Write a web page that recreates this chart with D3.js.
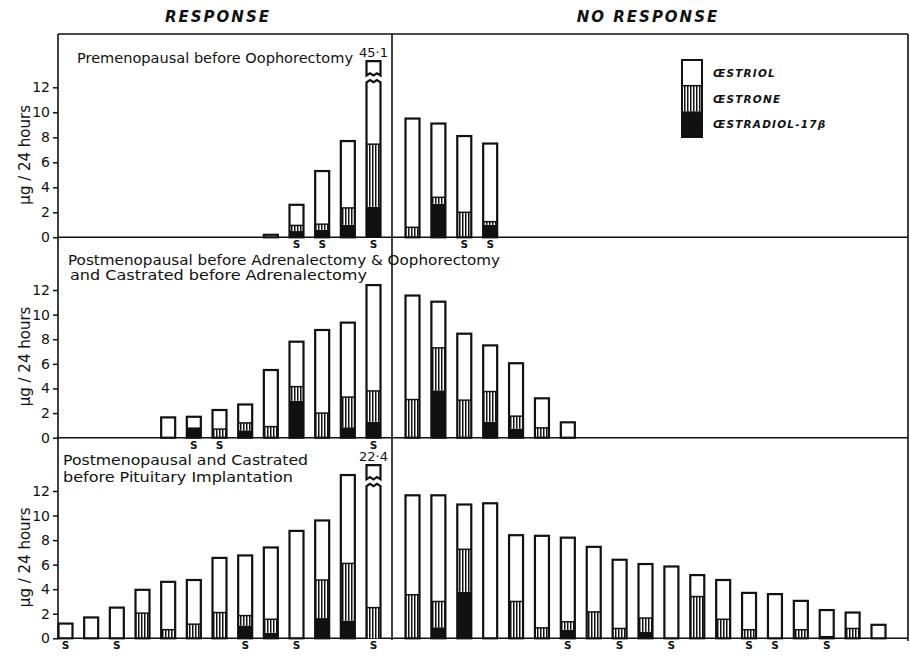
<!DOCTYPE html>
<html>
<head>
<meta charset="utf-8">
<script src="https://cdn.jsdelivr.net/npm/d3@7"></script>
<style>
  body { margin: 0; background: #fff; }
  svg { display: block; }
  text { font-family: "DejaVu Sans", sans-serif; fill: #111; }
</style>
</head>
<body>
<svg id="chart" width="910" height="656"></svg>
<script>
// R = response (left half), N = no response (right half); slot = bar position inside its half
// e2 = oestradiol-17b (black), e1 = oestrone (hatched), e3 = oestriol (white), all ug / 24 hours
const premenoSide = ["R","R","R","R","R","N","N","N","N"];
const premenoSlot = [8,9,10,11,12,0,1,2,3];
const premenoE2 = [0,0.5,0.6,1.0,2.45,0,2.7,0,1.0];
const premenoE1 = [0,0.45,0.45,1.35,5.0,0.8,0.5,2.0,0.25];
const premenoE3 = [0.2,1.65,4.25,5.35,37.65,8.7,5.9,6.1,6.25];
const premenoS = [0,1,1,0,1,0,0,1,1];

const adrenalSide = ["R","R","R","R","R","R","R","R","R","N","N","N","N","N","N","N"];
const adrenalSlot = [4,5,6,7,8,9,10,11,12,0,1,2,3,4,5,6];
const adrenalE2 = [0,0.85,0,0.6,0,3.0,0,0.85,1.3, 0,3.85,0,1.3,0.75,0,0];
const adrenalE1 = [0,0,0.7,0.6,0.9,1.15,2.0,2.45,2.5, 3.1,3.45,3.05,2.45,1.0,0.8,0];
const adrenalE3 = [1.65,0.85,1.55,1.5,4.6,3.65,6.75,6.05,8.6, 8.45,3.75,5.4,3.75,4.3,2.4,1.25];
const adrenalS = [0,1,1,0,0,0,0,0,1, 0,0,0,0,0,0,0];

const pituitSide = d3.range(13).map(() => "R").concat(d3.range(19).map(() => "N"));
const pituitSlot = d3.range(13).concat(d3.range(19));
const pituitE2 = [0,0,0,0,0,0,0,1.05,0.45,0,1.65,1.45,0,
                  0,0.9,3.8,0,0,0,0.7,0,0,0.55,0,0,0,0,0,0,0.2,0,0];
const pituitE1 = [0,0,0,2.05,0.7,1.15,2.1,0.8,1.1,0,3.1,4.65,2.5,
                  3.55,2.1,3.45,0,3.0,0.85,0.65,2.15,0.8,1.1,0,3.4,1.55,0.7,0,0.7,0,0.8,0];
const pituitE3 = [1.2,1.7,2.5,1.9,3.9,3.6,4.45,4.9,5.85,8.75,4.85,7.2,19.9,
                  8.1,8.65,3.65,11.0,5.4,7.5,6.85,5.3,5.6,4.4,5.85,1.75,3.2,3.0,3.6,2.35,2.1,1.3,1.1];
const pituitS = [1,0,1,0,0,0,0,1,0,1,0,0,1,
                 0,0,0,0,0,0,1,0,1,0,1,0,0,1,1,0,1,0,0];

const yTicks = [0,2,4,6,8,10,12];
const legendLabels = ["ŒSTRIOL","ŒSTRONE","ŒSTRADIOL-17β"];

const svg = d3.select("#chart");
const ink = "#111";

const defs = svg.append("defs");
const hatch = defs.append("pattern").attr("id", "hatch")
    .attr("patternUnits", "userSpaceOnUse").attr("width", 3).attr("height", 4);
hatch.append("rect").attr("width", 3).attr("height", 4).attr("fill", "#fff");
hatch.append("rect").attr("width", 1.5).attr("height", 4).attr("fill", ink);

const xLeft = d3.scaleLinear().domain([0, 12]).range([65.5, 373.5]);
const xRight = d3.scaleLinear().domain([0, 18]).range([412.5, 878.5]);
const barW = 14;

// headings
svg.append("text").attr("x", 218).attr("y", 22).attr("text-anchor", "middle")
    .style("font-size", "15px").style("font-style", "italic").style("font-weight", "bold")
    .style("letter-spacing", "2px").text("RESPONSE");
svg.append("text").attr("x", 648).attr("y", 22).attr("text-anchor", "middle")
    .style("font-size", "15px").style("font-style", "italic").style("font-weight", "bold")
    .style("letter-spacing", "2px").text("NO RESPONSE");

// frame
const frame = svg.append("g").attr("stroke", ink).attr("stroke-width", 1.6);
frame.append("line").attr("x1", 58).attr("x2", 908).attr("y1", 34).attr("y2", 34);
frame.append("line").attr("x1", 58).attr("x2", 58).attr("y1", 34).attr("y2", 639);
frame.append("line").attr("x1", 392).attr("x2", 392).attr("y1", 34).attr("y2", 640);
frame.append("line").attr("x1", 908).attr("x2", 908).attr("y1", 34).attr("y2", 641);

const panels = [
  { side: premenoSide, slot: premenoSlot, e2: premenoE2, e1: premenoE1, e3: premenoE3, s: premenoS,
    zero: 237.3, top: 87.3,
    titles: [{ t: "Premenopausal before Oophorectomy", x: 77, y: 63, w: 276 }] },
  { side: adrenalSide, slot: adrenalSlot, e2: adrenalE2, e1: adrenalE1, e3: adrenalE3, s: adrenalS,
    zero: 437.7, top: 290,
    titles: [{ t: "Postmenopausal before Adrenalectomy & Oophorectomy", x: 68, y: 265, w: 432 },
             { t: "and Castrated before Adrenalectomy", x: 70, y: 279.5, w: 297 }] },
  { side: pituitSide, slot: pituitSlot, e2: pituitE2, e1: pituitE1, e3: pituitE3, s: pituitS,
    zero: 638.3, top: 491,
    titles: [{ t: "Postmenopausal and Castrated", x: 63, y: 465, w: 245 },
             { t: "before Pituitary Implantation", x: 63, y: 481.5, w: 230 }] }
];

function zig(x0, yy) {
  const pts = [];
  for (let k = 0; k <= 4; k++) pts.push([x0 + k * barW / 4, yy - (k % 2 ? 2.2 : 0)]);
  return pts;
}

panels.forEach(p => {
  const y = d3.scaleLinear().domain([0, 12]).range([p.zero, p.top]);
  const g = svg.append("g");

  const axis = d3.axisLeft(y).tickValues(yTicks).tickSize(5).tickPadding(3).tickFormat(d3.format("d"));
  const ax = g.append("g").attr("transform", "translate(58,0)").call(axis);
  ax.select(".domain").remove();
  ax.selectAll(".tick line").attr("stroke", ink).attr("stroke-width", 1.5);
  ax.selectAll(".tick text").attr("fill", ink)
      .style("font-size", "14px").style("font-family", "\"DejaVu Sans\", sans-serif");

  g.append("text")
      .attr("transform", `translate(30,${y(6.6)}) rotate(-90)`)
      .attr("text-anchor", "middle").style("font-size", "15px")
      .text("μg / 24 hours");

  g.append("line").attr("x1", 58).attr("x2", 908).attr("y1", p.zero).attr("y2", p.zero)
      .attr("stroke", ink).attr("stroke-width", 1.6);

  p.titles.forEach(t => {
    g.append("text").attr("x", t.x).attr("y", t.y)
        .attr("textLength", t.w).attr("lengthAdjust", "spacingAndGlyphs")
        .style("font-size", "14px").text(t.t);
  });

  p.e3.forEach((e3, i) => {
    const cx = (p.side[i] === "R" ? xLeft : xRight)(p.slot[i]);
    const x0 = cx - barW / 2;
    const e2 = p.e2[i], e1 = p.e1[i];
    const total = e2 + e1 + e3;
    const broken = total > 14;
    const shown = broken ? 12.4 : total;

    [[0, e2, ink], [e2, e2 + e1, "url(#hatch)"], [e2 + e1, shown, "#fff"]].forEach(([a, b, f]) => {
      if (b > a) g.append("rect").attr("x", x0).attr("y", y(b))
          .attr("width", barW).attr("height", y(a) - y(b)).attr("fill", f);
    });
    if (e1 > 0 && e3 > 0) {
      g.append("line").attr("x1", x0).attr("x2", x0 + barW)
          .attr("y1", y(e2 + e1)).attr("y2", y(e2 + e1))
          .attr("stroke", ink).attr("stroke-width", 1.5);
    }

    if (!broken) {
      g.append("rect").attr("x", x0).attr("y", y(total))
          .attr("width", barW).attr("height", y(0) - y(total))
          .attr("fill", "none").attr("stroke", ink).attr("stroke-width", 2.2);
    } else {
      const top = zig(x0, y(shown)).reverse();
      const path = d3.path();
      path.moveTo(x0 + barW, y(0));
      top.forEach(([px, py]) => path.lineTo(px, py));
      path.lineTo(x0, y(0));
      g.append("path").attr("d", path.toString())
          .attr("fill", "none").attr("stroke", ink).attr("stroke-width", 2.2);

      const cap = d3.path();
      const bottom = zig(x0, y(12.95));
      cap.moveTo(x0, y(12.95));
      cap.lineTo(x0, y(14.1));
      cap.lineTo(x0 + barW, y(14.1));
      cap.lineTo(x0 + barW, y(12.95));
      bottom.reverse().forEach(([px, py]) => cap.lineTo(px, py));
      cap.closePath();
      g.append("path").attr("d", cap.toString())
          .attr("fill", "#fff").attr("stroke", ink).attr("stroke-width", 2.2);

      g.append("text").attr("x", cx).attr("y", y(14.1) - 4)
          .attr("text-anchor", "middle").style("font-size", "13px")
          .text(d3.format(".1f")(total).replace(".", "·"));
    }

    if (p.s[i]) {
      g.append("text").attr("x", cx).attr("y", p.zero + 11)
          .attr("text-anchor", "middle").style("font-size", "10.5px").style("font-weight", "bold")
          .text("S");
    }
  });
});

// legend
const lg = svg.append("g");
const legY = d3.scaleLinear().domain([0, 3]).range([60, 137]);
[["#fff", 0], ["url(#hatch)", 1], [ink, 2]].forEach(([f, k]) => {
  lg.append("rect").attr("x", 682).attr("y", legY(k)).attr("width", 20)
      .attr("height", legY(k + 1) - legY(k)).attr("fill", f);
});
lg.append("rect").attr("x", 682).attr("y", legY(0)).attr("width", 20)
    .attr("height", legY(3) - legY(0)).attr("fill", "none").attr("stroke", ink).attr("stroke-width", 2);
lg.append("line").attr("x1", 682).attr("x2", 702).attr("y1", legY(1)).attr("y2", legY(1))
    .attr("stroke", ink).attr("stroke-width", 1.5);
legendLabels.forEach((t, k) => {
  lg.append("text").attr("x", 713).attr("y", legY(k) + 17)
      .style("font-size", "10.5px").style("font-style", "italic").style("font-weight", "bold")
      .style("letter-spacing", "1.2px").text(t);
});
</script>
</body>
</html>
